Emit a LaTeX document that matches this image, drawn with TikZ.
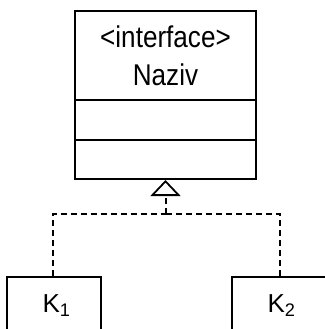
\documentclass[tikz,border=0pt]{standalone}
\usepackage{fontspec}
\setmainfont{Liberation Sans}
\newfontfamily\narrowsans[FakeStretch=0.87]{Liberation Sans}
\usetikzlibrary{arrows.meta}
\begin{document}
\begin{tikzpicture}[x=1pt, y=-1pt, line width=2pt,
  classbox/.style={draw, rectangle, inner sep=0pt, fill=white},
  titletext/.style={anchor=base, inner sep=0pt, font=\narrowsans\fontsize{30}{30}\selectfont},
  classtext/.style={anchor=base, inner sep=0pt, font=\fontsize{26}{26}\selectfont},
  realize/.style={dash pattern=on 6pt off 4pt},
  hollow/.style={-{Triangle[open, length=16pt, width=30pt, line width=1.8pt]}}]
  \useasboundingbox (0,0) rectangle (324,329);

  % interface box with its three compartments
  \node[classbox, minimum width=181pt, minimum height=168pt] (iface) at (165.5,95) {};
  \draw (iface.west |- 0,100) -- (iface.east |- 0,100);
  \draw (iface.west |- 0,140) -- (iface.east |- 0,140);
  \node[titletext] (stereo) at (165.5,48) {<interface>};
  \node[titletext] (name) at (165.5,85) {Naziv};

  % implementing classes
  \node[classbox, minimum width=94pt, minimum height=90pt, anchor=north] (k1) at (54,275.5) {};
  \node[classtext] (k1name) at (56.5,312.5) {K\textsubscript{1}};
  \node[classbox, minimum width=94pt, minimum height=90pt, anchor=north] (k2) at (279,275.5) {};
  \node[classtext] (k2name) at (281.5,312.5) {K\textsubscript{2}};

  % realization connectors
  \coordinate (join) at (165.5,213.5);
  \draw[realize] (k1.north -| 52.5,0) |- (join);
  \draw[realize] (k2.north -| 280,0) |- (join);
  \draw[realize, hollow] (join) -- (iface.south);
\end{tikzpicture}
\end{document}
